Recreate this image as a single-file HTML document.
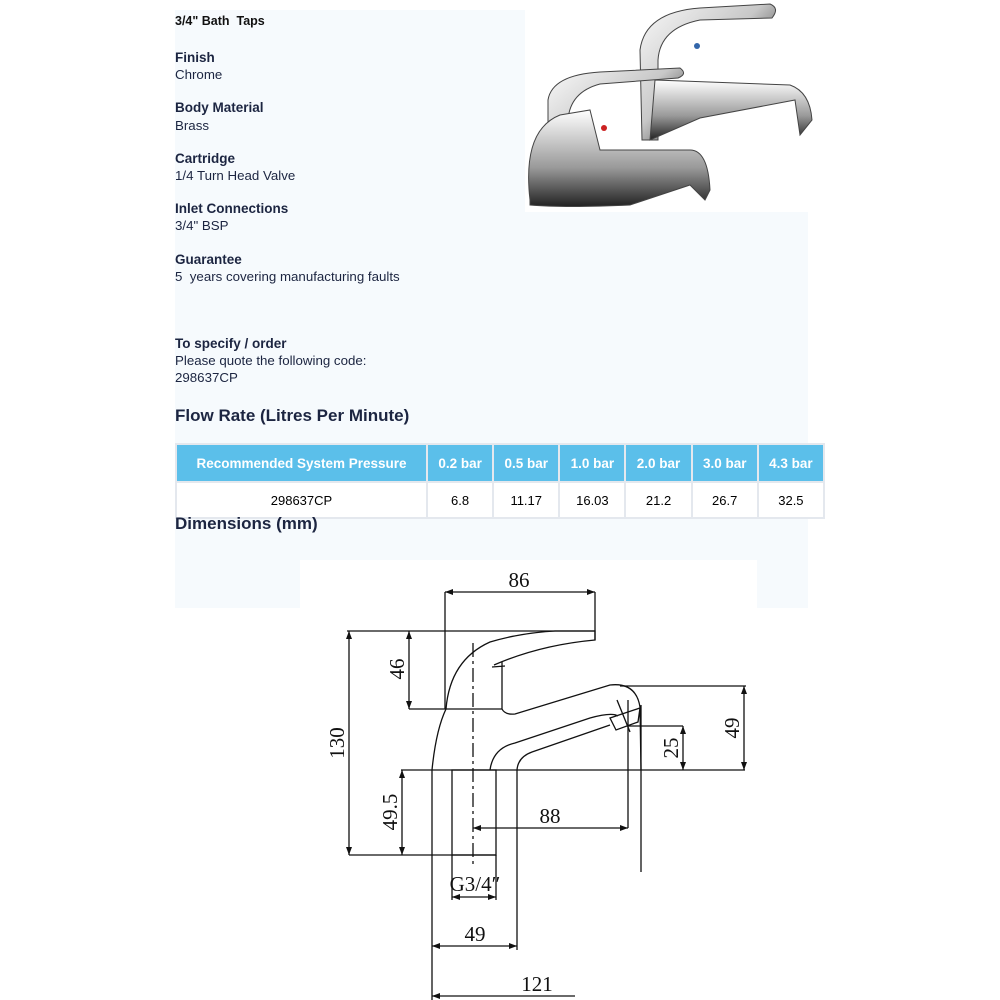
<!DOCTYPE html>
<html><head><meta charset="utf-8"><style>
body{margin:0;width:1000px;height:1000px;background:#fff;position:relative;overflow:hidden;font-family:"Liberation Sans",Arial,sans-serif;color:#1c2541}
.a{position:absolute;white-space:nowrap}
.b{font-weight:bold;font-size:13.5px}
.v{font-size:13.3px}
table{position:absolute;left:175px;top:443px;width:650px;border-collapse:collapse;font-size:13px}
th{background:#5bbfea;color:#fff;height:34px;border:2px solid #e4e8ee;font-size:13.5px}
td{height:32px;border:2px solid #e4e8ee;text-align:center;color:#000;background:#fff}
</style></head><body>
<div class="a" style="left:175px;top:10px;width:350px;height:202px;background:#f6fafd"></div>
<div class="a" style="left:175px;top:212px;width:633px;height:396px;background:#f6fafd"></div>
<div class="a" style="left:300px;top:560px;width:457px;height:440px;background:#fff"></div>
<div class="a" style="left:175px;top:14px;font-weight:bold;font-size:12.5px;color:#111">3/4" Bath&nbsp; Taps</div>
<div class="a b" style="left:175px;top:50px">Finish</div><div class="a v" style="left:175px;top:67px">Chrome</div>
<div class="a b" style="left:175px;top:100px">Body Material</div><div class="a v" style="left:175px;top:118px">Brass</div>
<div class="a b" style="left:175px;top:151px">Cartridge</div><div class="a v" style="left:175px;top:168px">1/4 Turn Head Valve</div>
<div class="a b" style="left:175px;top:201px">Inlet Connections</div><div class="a v" style="left:175px;top:218px">3/4" BSP</div>
<div class="a b" style="left:175px;top:252px">Guarantee</div><div class="a v" style="left:175px;top:269px">5&nbsp; years covering manufacturing faults</div>
<div class="a b" style="left:175px;top:336px">To specify / order</div>
<div class="a v" style="left:175px;top:353px">Please quote the following code:</div>
<div class="a v" style="left:175px;top:370px">298637CP</div>
<div class="a" style="left:175px;top:406px;font-size:17px;font-weight:bold;color:#1c2541">Flow Rate (Litres Per Minute)</div>
<table><tr><th style="width:247px">Recommended System Pressure</th><th>0.2 bar</th><th>0.5 bar</th><th>1.0 bar</th><th>2.0 bar</th><th>3.0 bar</th><th>4.3 bar</th></tr>
<tr><td>298637CP</td><td>6.8</td><td>11.17</td><td>16.03</td><td>21.2</td><td>26.7</td><td>32.5</td></tr></table>
<div class="a" style="left:175px;top:514px;font-size:17px;font-weight:bold;color:#1c2541">Dimensions (mm)</div>
<svg class="a" style="left:0;top:0" width="1000" height="1000">
<defs><linearGradient id="g" x1="0" x2="1" y1="0" y2="1"><stop offset="0" stop-color="#fafafa"/><stop offset=".45" stop-color="#c8c8c8"/><stop offset=".7" stop-color="#555"/><stop offset="1" stop-color="#eee"/></linearGradient>
<linearGradient id="h" x1="0" x2="0" y1="0" y2="1"><stop offset="0" stop-color="#fff"/><stop offset=".6" stop-color="#999"/><stop offset="1" stop-color="#222"/></linearGradient></defs>
<g stroke="#444" stroke-width="1">
<path d="M640 50 Q645 12 700 8 L770 4 Q780 8 772 18 L700 20 Q660 28 658 60 L658 140 L642 140 Z" fill="url(#g)"/>
<path d="M655 80 L790 85 Q810 92 812 120 L800 135 L795 100 L700 118 L650 140 Z" fill="url(#h)"/>
<path d="M548 100 Q552 75 600 72 L680 68 Q688 74 678 78 L600 84 Q570 92 568 120 L568 160 L548 175 Z" fill="url(#g)"/>
<path d="M530 200 Q522 130 560 115 L590 110 L600 150 L690 150 Q708 150 710 190 L705 200 L690 185 L630 205 Q565 208 530 205 Z" fill="url(#h)"/>
</g>
<circle cx="604" cy="128" r="3" fill="#c22"/><circle cx="697" cy="46" r="3" fill="#36a"/>
<g stroke="#111" stroke-width="1.3" fill="none">
<line x1="445" y1="592" x2="595" y2="592"/><line x1="445" y1="592" x2="445" y2="709"/><line x1="595" y1="592" x2="595" y2="640"/>
<line x1="347" y1="631" x2="595" y2="631"/>
<line x1="349" y1="631" x2="349" y2="855"/>
<line x1="409" y1="631" x2="409" y2="709"/><line x1="409" y1="709" x2="502" y2="709"/>
<line x1="401" y1="770" x2="745" y2="770"/>
<line x1="402" y1="770" x2="402" y2="855"/>
<line x1="349" y1="855" x2="496" y2="855"/>
<rect x="452" y="770" width="44" height="85"/>
<line x1="473" y1="643" x2="473" y2="865" stroke-dasharray="14,4,3,4"/>
<line x1="473" y1="828" x2="628" y2="828"/><line x1="628" y1="700" x2="628" y2="828"/>
<line x1="641" y1="705" x2="641" y2="872"/>
<line x1="628" y1="726" x2="683" y2="726"/><line x1="683" y1="726" x2="683" y2="770"/>
<line x1="620" y1="686" x2="746" y2="686"/><line x1="744" y1="686" x2="744" y2="770"/>
<line x1="452" y1="855" x2="452" y2="900"/><line x1="496" y1="855" x2="496" y2="900"/>
<line x1="452" y1="897" x2="496" y2="897"/>
<line x1="432" y1="770" x2="432" y2="1000"/><line x1="517" y1="770" x2="517" y2="950"/>
<line x1="432" y1="946" x2="517" y2="946"/>
<line x1="432" y1="996" x2="575" y2="996"/>
<path d="M446 709 Q450 660 490 642 Q520 633 555 631 L595 631 L595 640 Q540 645 494 665"/>
<path d="M492 667 L505 666 M502 662 L502 709 Q505 715 515 714 L610 685 Q636 682 640 707 L641 770"/>
<path d="M446 709 Q436 730 432 770"/>
<path d="M490 770 Q493 748 515 743 L590 718 Q612 712 618 716"/>
<path d="M517 770 Q518 757 532 752 L610 725"/>
<path d="M610 718 L640 708 L638 722 L616 730 Z"/>
<line x1="617" y1="700" x2="630" y2="732"/>
</g>
<g fill="#111">
<path d="M445 592 l8 -3 v6 z M595 592 l-8 -3 v6 z"/>
<path d="M349 631 l-3 8 h6 z M349 855 l-3 -8 h6 z"/>
<path d="M409 631 l-3 8 h6 z M409 709 l-3 -8 h6 z"/>
<path d="M402 770 l-3 8 h6 z M402 855 l-3 -8 h6 z"/>
<path d="M473 828 l8 -3 v6 z M628 828 l-8 -3 v6 z"/>
<path d="M683 726 l-3 8 h6 z M683 770 l-3 -8 h6 z"/>
<path d="M744 686 l-3 8 h6 z M744 770 l-3 -8 h6 z"/>
<path d="M452 897 l8 -3 v6 z M496 897 l-8 -3 v6 z"/>
<path d="M432 946 l8 -3 v6 z M517 946 l-8 -3 v6 z"/>
<path d="M432 996 l8 -3 v6 z"/>
</g>
<g font-family="Liberation Serif,serif" font-size="21" fill="#111" text-anchor="middle">
<text x="519" y="587">86</text>
<text x="550" y="823">88</text>
<text x="475" y="891">G3/4″</text>
<text x="475" y="941">49</text>
<text x="537" y="991">121</text>
<text transform="translate(404,669) rotate(-90)">46</text>
<text transform="translate(344,743) rotate(-90)">130</text>
<text transform="translate(397,812) rotate(-90)">49.5</text>
<text transform="translate(678,748) rotate(-90)">25</text>
<text transform="translate(739,728) rotate(-90)">49</text>
</g>
</svg>
</body></html>
